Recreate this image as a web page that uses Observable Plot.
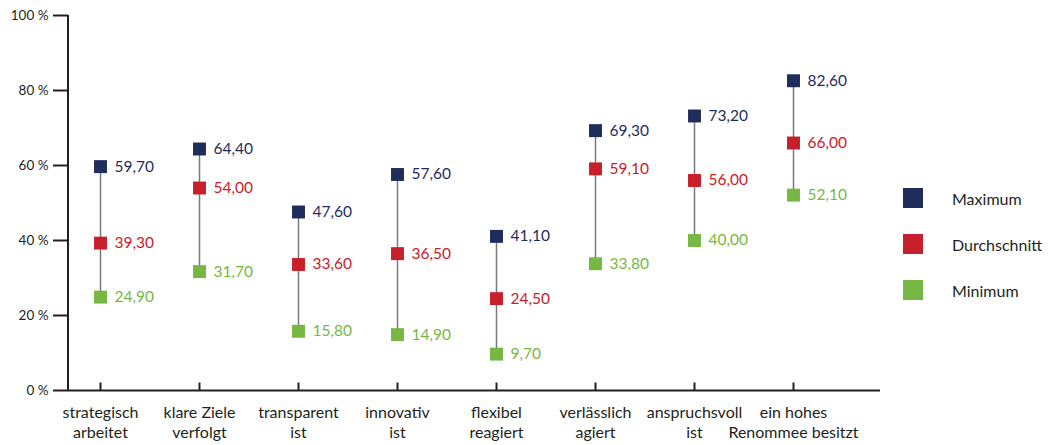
<!DOCTYPE html>
<html>
<head>
<meta charset="utf-8">
<script src="https://cdn.jsdelivr.net/npm/d3@7"></script>
<script src="https://cdn.jsdelivr.net/npm/@observablehq/plot@0.6"></script>
<style>
  html, body { margin: 0; padding: 0; background: #fff; }
  #wrap { position: relative; width: 1048px; height: 445px; font-family: Lato, "Open Sans", sans-serif; }
  #legend { position: absolute; left: 903px; top: 175px; }
  .row { display: flex; align-items: center; height: 46px; margin: 0; }
  .row span.sw { width: 20px; height: 20px; display: inline-block; }
  .row span.lb { font-size: 16px; color: #231f20; margin-left: 29px; }
  svg g[aria-label="x-axis tick label"] { font-size: 16px !important; }
</style>
</head>
<body>
<div id="wrap"></div>
<script>
const categories = [
  "strategisch\narbeitet",
  "klare Ziele\nverfolgt",
  "transparent\nist",
  "innovativ\nist",
  "flexibel\nreagiert",
  "verlässlich\nagiert",
  "anspruchsvoll\nist",
  "ein hohes\nRenommee besitzt"
];
const maximum      = [59.7, 64.4, 47.6, 57.6, 41.1, 69.3, 73.2, 82.6];
const durchschnitt = [39.3, 54.0, 33.6, 36.5, 24.5, 59.1, 56.0, 66.0];
const minimum      = [24.9, 31.7, 15.8, 14.9, 9.7, 33.8, 40.0, 52.1];
const seriesNames = ["Maximum", "Durchschnitt", "Minimum"];
const seriesColors = ["#1f2d5c", "#c8202a", "#76b843"];
const yTicks = [0, 20, 40, 60, 80, 100];

const rows = categories.map((c, i) => ({cat: c, max: maximum[i], avg: durchschnitt[i], min: minimum[i]}));
const points = [];
categories.forEach((c, i) => {
  points.push({cat: c, series: "Maximum", value: maximum[i]});
  points.push({cat: c, series: "Durchschnitt", value: durchschnitt[i]});
  points.push({cat: c, series: "Minimum", value: minimum[i]});
});
const fmt = v => v.toFixed(2).replace(".", ",");
const ink = "#231f20";

const chart = Plot.plot({
  width: 1048,
  height: 445,
  marginLeft: 68,
  marginRight: 168,
  marginTop: 15,
  marginBottom: 55,
  style: {fontFamily: "Lato, 'Open Sans', sans-serif", background: "#fff", fontSize: "15px"},
  x: {type: "point", domain: categories, range: [97, 796], padding: 0, axis: null},
  y: {domain: [0, 100], axis: null},
  color: {domain: seriesNames, range: seriesColors},
  marks: [
    Plot.axisY({ticks: yTicks, tickSize: 15, tickFormat: () => "", color: ink, strokeWidth: 2, label: null}),
    Plot.text(yTicks, {y: d => d, frameAnchor: "left", text: d => d + " %", textAnchor: "end", dx: -20, fontSize: 13.5, fill: ink}),
    Plot.ruleY([0], {stroke: ink, strokeWidth: 2}),
    Plot.ruleX(categories, {x: d => d, y1: 0, y2: 2, stroke: ink, strokeWidth: 2}),
    Plot.axisX({tickSize: 0, tickPadding: 13, fontSize: 16, color: ink, lineHeight: 1.25, label: null}),
    Plot.ruleX(rows, {x: "cat", y1: "min", y2: "max", stroke: "#7a7a7a", strokeWidth: 1.5}),
    Plot.dot(points, {x: "cat", y: "value", fill: "series", symbol: "square", r: 7.3, stroke: "none"}),
    Plot.text(points, {x: "cat", y: "value", fill: "series", text: d => fmt(d.value), dx: 14, textAnchor: "start", fontSize: 15.5})
  ]
});
const svg = d3.select(chart);
svg.append("line").attr("x1", 68).attr("x2", 68).attr("y1", 15).attr("y2", 390).attr("stroke", ink).attr("stroke-width", 2);

const wrap = document.getElementById("wrap");
wrap.appendChild(chart);
const legend = document.createElement("div");
legend.id = "legend";
seriesNames.forEach((n, i) => {
  const r = document.createElement("div");
  r.className = "row";
  r.innerHTML = `<span class="sw" style="background:${seriesColors[i]}"></span><span class="lb">${n}</span>`;
  legend.appendChild(r);
});
wrap.appendChild(legend);
</script>
</body>
</html>
